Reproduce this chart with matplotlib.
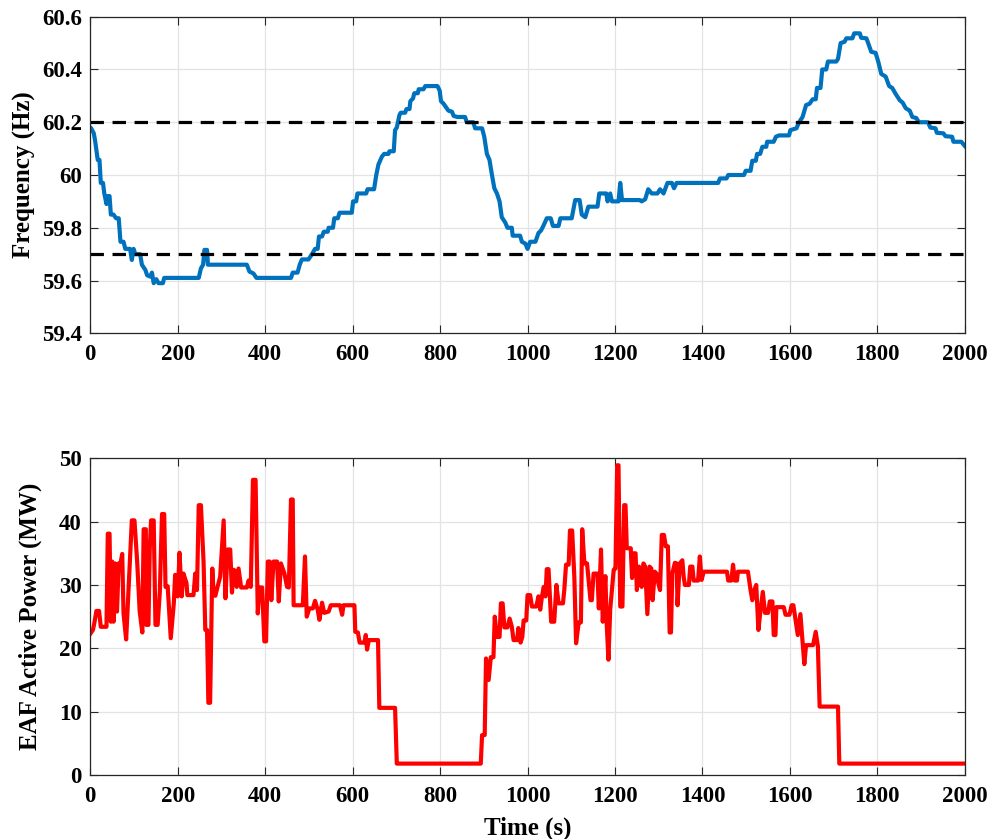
import numpy as np
import matplotlib.pyplot as plt
from matplotlib.ticker import FuncFormatter

plt.rcParams['font.family'] = ['Liberation Serif', 'DejaVu Serif']
plt.rcParams['font.weight'] = 'bold'

# frequency trace (s, Hz)
freq_t = [0, 2, 8, 11, 17, 21, 24, 29, 32, 37, 40, 44, 47, 53, 59, 65, 69, 76, 80, 91,
          95, 99, 103, 114, 118, 126, 130, 137, 141, 145, 151, 156, 166, 169, 248, 253,
          258, 261, 267, 269, 358, 364, 373, 380, 459, 463, 474, 479, 484, 499, 507, 514,
          520, 523, 530, 534, 543, 545, 555, 558, 566, 570, 598, 601, 608, 611, 631, 634,
          649, 654, 659, 667, 672, 682, 684, 694, 697, 701, 707, 710, 720, 723, 730, 732,
          738, 741, 749, 751, 762, 766, 794, 799, 802, 808, 814, 819, 827, 831, 839, 857,
          861, 876, 880, 896, 901, 907, 913, 918, 924, 930, 936, 941, 949, 954, 964, 966,
          983, 987, 995, 1000, 1006, 1018, 1025, 1031, 1037, 1044, 1053, 1058, 1071, 1075,
          1101, 1109, 1119, 1124, 1132, 1139, 1160, 1164, 1180, 1183, 1189, 1193, 1208,
          1212, 1216, 1257, 1261, 1269, 1276, 1284, 1297, 1303, 1311, 1320, 1330, 1335,
          1341, 1436, 1440, 1455, 1459, 1495, 1499, 1510, 1514, 1522, 1525, 1532, 1537,
          1546, 1548, 1563, 1568, 1575, 1598, 1601, 1615, 1621, 1629, 1637, 1645, 1652,
          1659, 1662, 1670, 1674, 1683, 1687, 1706, 1710, 1716, 1725, 1729, 1743, 1747,
          1760, 1763, 1775, 1779, 1786, 1796, 1802, 1809, 1819, 1827, 1834, 1842, 1851,
          1858, 1865, 1874, 1880, 1889, 1895, 1916, 1921, 1933, 1936, 1951, 1956, 1971,
          1974, 1992, 2000]
freq_hz = [60.18, 60.177, 60.158, 60.13, 60.057, 60.057, 59.97, 59.97, 59.93, 59.89,
           59.92, 59.92, 59.85, 59.85, 59.836, 59.836, 59.747, 59.747, 59.72, 59.72,
           59.678, 59.72, 59.70, 59.70, 59.66, 59.64, 59.62, 59.615, 59.63, 59.59,
           59.605, 59.59, 59.59, 59.61, 59.61, 59.646, 59.66, 59.716, 59.716, 59.66,
           59.66, 59.634, 59.627, 59.61, 59.61, 59.63, 59.63, 59.66, 59.68, 59.68,
           59.70, 59.72, 59.72, 59.767, 59.767, 59.785, 59.785, 59.80, 59.80, 59.836,
           59.836, 59.857, 59.857, 59.90, 59.90, 59.93, 59.93, 59.946, 59.946, 60.0,
           60.04, 60.07, 60.08, 60.08, 60.09, 60.09, 60.17, 60.18, 60.227, 60.236,
           60.236, 60.25, 60.25, 60.28, 60.29, 60.31, 60.31, 60.325, 60.325, 60.337,
           60.337, 60.32, 60.28, 60.27, 60.256, 60.244, 60.24, 60.224, 60.22, 60.22,
           60.20, 60.20, 60.177, 60.177, 60.145, 60.08, 60.057, 60.006, 59.95, 59.93,
           59.90, 59.84, 59.82, 59.80, 59.80, 59.77, 59.77, 59.747, 59.74, 59.72,
           59.747, 59.747, 59.78, 59.79, 59.81, 59.836, 59.836, 59.807, 59.807, 59.836,
           59.836, 59.905, 59.905, 59.85, 59.84, 59.88, 59.88, 59.93, 59.93, 59.90,
           59.93, 59.90, 59.90, 59.97, 59.905, 59.905, 59.90, 59.908, 59.946, 59.93,
           59.93, 59.946, 59.93, 59.97, 59.97, 59.95, 59.97, 59.97, 59.987, 59.987,
           60.0, 60.0, 60.016, 60.016, 60.054, 60.054, 60.08, 60.08, 60.107, 60.107,
           60.126, 60.126, 60.145, 60.15, 60.15, 60.17, 60.177, 60.20, 60.22, 60.265,
           60.27, 60.287, 60.287, 60.33, 60.33, 60.40, 60.40, 60.43, 60.43, 60.44,
           60.50, 60.505, 60.518, 60.518, 60.537, 60.537, 60.52, 60.518, 60.50, 60.467,
           60.463, 60.43, 60.383, 60.373, 60.337, 60.33, 60.307, 60.284, 60.274, 60.253,
           60.244, 60.22, 60.216, 60.20, 60.20, 60.18, 60.177, 60.16, 60.158, 60.147,
           60.145, 60.126, 60.126, 60.11]

# EAF active power trace (s, MW)
power_t = [0, 2, 6, 9, 14, 20, 24, 37, 40, 44, 47, 50, 53, 57, 61, 65, 69, 73, 76, 82,
           90, 95, 101, 107, 113, 119, 122, 127, 128, 133, 136, 139, 145, 149, 154, 159,
           164, 169, 172, 177, 184, 191, 194, 200, 204, 209, 213, 220, 222, 236, 240, 244,
           248, 253, 259, 263, 267, 270, 274, 279, 282, 286, 291, 297, 305, 309, 314, 320,
           324, 328, 332, 335, 339, 345, 358, 362, 367, 372, 378, 383, 387, 393, 398, 402,
           406, 410, 414, 419, 427, 431, 436, 444, 450, 454, 459, 463, 465, 486, 491, 495,
           501, 509, 514, 520, 524, 530, 535, 545, 550, 571, 576, 579, 604, 606, 612, 616,
           627, 630, 633, 637, 658, 661, 697, 701, 893, 896, 902, 905, 911, 916, 922, 925,
           930, 936, 939, 943, 947, 954, 959, 964, 968, 976, 979, 984, 988, 991, 997, 1000,
           1006, 1010, 1020, 1025, 1029, 1033, 1037, 1041, 1044, 1048, 1054, 1061, 1066,
           1071, 1081, 1084, 1088, 1094, 1097, 1102, 1107, 1111, 1117, 1122, 1125, 1130,
           1136, 1140, 1144, 1147, 1151, 1160, 1163, 1168, 1172, 1178, 1181, 1185, 1189,
           1197, 1201, 1205, 1208, 1212, 1217, 1221, 1224, 1227, 1236, 1239, 1242, 1247,
           1250, 1255, 1261, 1265, 1269, 1274, 1279, 1283, 1286, 1291, 1295, 1299, 1303,
           1307, 1312, 1316, 1321, 1325, 1328, 1331, 1337, 1341, 1343, 1348, 1354, 1357,
           1360, 1369, 1372, 1377, 1380, 1390, 1394, 1398, 1403, 1456, 1459, 1466, 1470,
           1474, 1479, 1481, 1504, 1510, 1514, 1517, 1523, 1528, 1532, 1538, 1543, 1550,
           1554, 1560, 1563, 1567, 1569, 1586, 1590, 1599, 1604, 1608, 1613, 1618, 1624,
           1628, 1633, 1637, 1653, 1659, 1664, 1668, 1710, 1713, 2000]
power_mw = [22.3, 22.5, 22.9, 23.9, 25.9, 25.9, 23.4, 23.4, 38.1, 38.1, 24.2, 33.7, 24.2,
            33.4, 25.8, 33.4, 33.4, 34.9, 25.5, 21.4, 33.2, 40.2, 40.2, 33.9, 25.8, 22.5,
            38.8, 38.8, 23.7, 23.7, 35.8, 40.2, 40.2, 23.7, 23.7, 28.9, 41.2, 41.2, 29.7,
            29.8, 21.6, 27.1, 31.6, 28.2, 35.1, 28.2, 31.8, 30.3, 28.4, 28.4, 31.8, 29.2,
            42.6, 42.6, 33.7, 22.9, 22.9, 11.4, 11.4, 32.6, 28.4, 28.3, 29.7, 31.3, 40.2,
            27.9, 35.6, 35.6, 28.8, 32.4, 32.1, 29.7, 32.6, 29.6, 29.6, 30.7, 29.7, 46.6,
            46.6, 25.5, 29.6, 29.6, 21.1, 21.1, 33.7, 33.7, 27.6, 33.7, 33.7, 27.4, 33.4,
            31.8, 29.7, 29.6, 43.5, 43.5, 26.8, 26.8, 34.5, 25.0, 26.3, 26.3, 27.5, 26.1,
            24.5, 27.2, 25.6, 25.8, 26.8, 26.8, 25.3, 26.8, 26.8, 22.6, 22.5, 20.9, 20.9,
            22.1, 19.8, 21.3, 21.3, 10.6, 10.6, 1.8, 1.8, 6.3, 6.3, 18.4, 15.0, 18.6, 18.6,
            25.0, 21.8, 21.8, 27.1, 27.1, 23.3, 23.3, 24.7, 23.4, 21.3, 21.3, 23.2, 20.9,
            21.8, 24.4, 24.4, 28.4, 28.4, 26.6, 26.6, 28.2, 26.1, 28.2, 29.7, 28.2, 32.5,
            32.5, 24.2, 24.2, 30.0, 27.1, 27.1, 29.2, 33.2, 33.2, 38.6, 38.6, 31.3, 20.8,
            24.1, 24.1, 38.8, 33.4, 33.4, 30.5, 27.6, 27.6, 31.8, 31.8, 26.3, 35.6, 24.2,
            31.4, 23.9, 18.2, 26.1, 32.4, 32.6, 48.9, 48.9, 26.6, 26.6, 42.6, 42.6, 35.8,
            35.8, 31.1, 35.0, 35.0, 29.2, 32.9, 29.7, 33.4, 32.9, 25.4, 32.9, 32.6, 27.6,
            32.1, 31.8, 30.3, 29.2, 37.9, 37.9, 36.1, 36.1, 22.5, 22.5, 31.8, 33.5, 33.4,
            26.8, 33.4, 33.9, 31.3, 30.0, 30.0, 32.9, 32.9, 30.7, 30.7, 34.5, 30.8, 32.1,
            32.1, 30.7, 30.7, 33.2, 30.7, 30.7, 32.1, 32.1, 29.2, 27.6, 28.9, 30.0, 22.9,
            25.5, 28.9, 25.6, 25.6, 27.4, 27.4, 22.1, 22.1, 26.5, 26.5, 25.3, 25.3, 26.8,
            26.8, 24.5, 22.1, 25.4, 21.8, 17.5, 20.5, 20.5, 22.6, 20.3, 10.8, 10.8, 1.8,
            1.8]

freq_limits = [60.2, 59.7]
x_ticks = np.arange(0, 2001, 200)

W, H = 1003, 839
fig = plt.figure(figsize=(W / 100, H / 100), dpi=100)
ax1 = fig.add_axes([90.3 / W, 1 - 333.3 / H, 874.5 / W, 316.6 / H])
ax2 = fig.add_axes([90.3 / W, 1 - 775 / H, 874.5 / W, 316.7 / H])


def style(ax):
    ax.set_xlim(0, 2000)
    ax.set_xticks(x_ticks)
    ax.grid(True, color='#e3e3e3', linewidth=0.9)
    ax.set_axisbelow(True)
    ax.tick_params(direction='in', length=6, width=0.8, top=True, right=True,
                   labelsize=16.5, color='#262626')
    ax.tick_params(axis='x', pad=8)
    ax.tick_params(axis='y', pad=6)
    for lbl in ax.get_xticklabels() + ax.get_yticklabels():
        lbl.set_fontweight('bold')
    for s in ax.spines.values():
        s.set_color('#262626')
        s.set_linewidth(0.9)


ax1.plot(freq_t, freq_hz, color='#0072BD', linewidth=3.0)
for lim in freq_limits:
    ax1.axhline(lim, color='black', linewidth=2.3, linestyle=(0, (4.2, 2.7)))
ax1.set_ylim(59.4, 60.6)
ax1.set_yticks(np.arange(59.4, 60.61, 0.2))
ax1.yaxis.set_major_formatter(FuncFormatter(lambda v, p: '%g' % round(v, 1)))
ax1.set_ylabel('Frequency (Hz)', fontsize=18, fontweight='bold', labelpad=4)
style(ax1)

ax2.plot(power_t, power_mw, color='#FF0000', linewidth=3.0)
ax2.set_ylim(0, 50)
ax2.set_yticks(np.arange(0, 51, 10))
ax2.set_ylabel('EAF Active Power (MW)', fontsize=18, fontweight='bold', labelpad=12)
ax2.set_xlabel('Time (s)', fontsize=18, fontweight='bold', labelpad=7)
style(ax2)

fig.savefig('out.png', dpi=100)
